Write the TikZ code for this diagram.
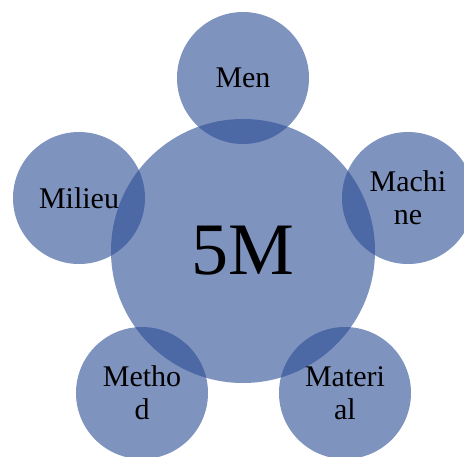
\documentclass[tikz,border=0pt]{standalone}
\usepackage{fontspec}
\setmainfont{Liberation Serif}
\definecolor{mblue}{RGB}{42,75,148}
\tikzset{
  bubble/.style={circle, fill=mblue, fill opacity=0.6, text opacity=1, draw=none,
    inner sep=0pt, minimum size=132pt, align=center,
    font=\fontsize{30}{33}\selectfont},
  hub/.style={bubble, minimum size=264pt, font=\fontsize{74}{80}\selectfont}
}
\begin{document}
\begin{tikzpicture}[x=1pt,y=-1pt]
\useasboundingbox (0,0) rectangle (464,456);
\clip (0,0) rectangle (464,456);
\node[hub] (hub) at (243,251) {5M};
\node[bubble] (men) at (243,78) {Men};
\node[bubble] (machine) at (408,198) {Machi\\ne};
\node[bubble] (material) at (345,393) {Materi\\al};
\node[bubble] (method) at (142,393) {Metho\\d};
\node[bubble] (milieu) at (79,198) {Milieu};
\end{tikzpicture}
\end{document}
